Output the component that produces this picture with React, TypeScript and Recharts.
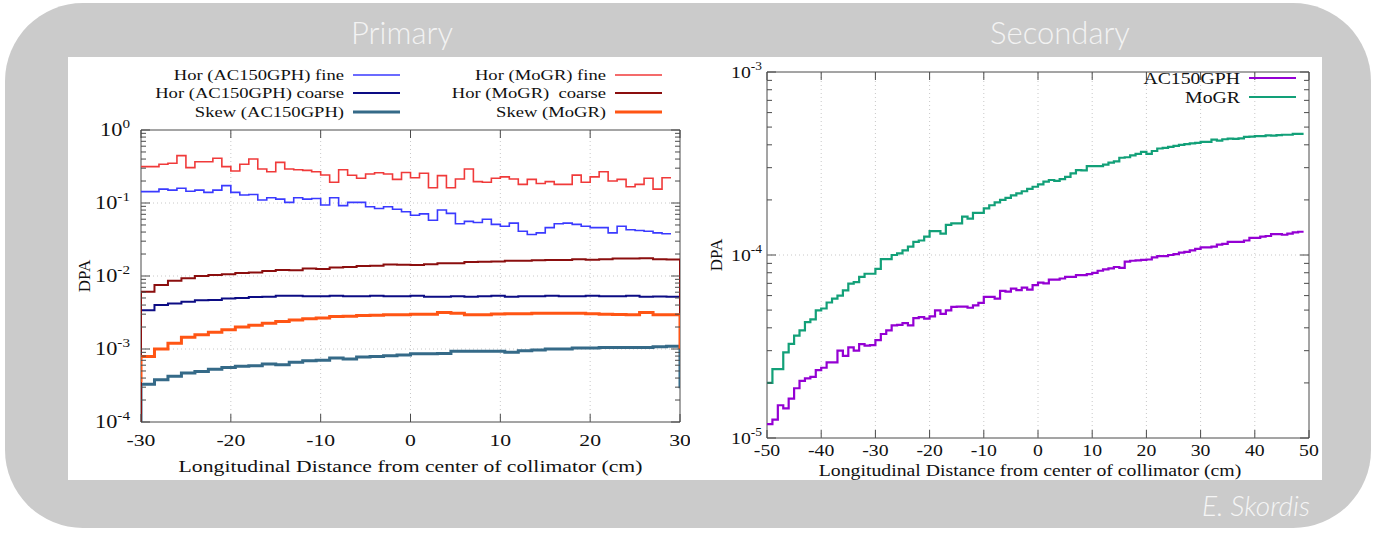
import React from 'react';
import { LineChart, Line, XAxis, YAxis, ReferenceLine, ReferenceArea } from 'recharts';

const SERIF = '"Liberation Serif", "Times New Roman", serif';
const FRAME = '#4a4a4a';
const GRID = '#c8c8c8';
const INK = '#111';

// ---- Primary (left): fine bins are 1 cm wide, coarse/skew bins 1.5 cm, from -30 cm
const horAcFine = [
  0.143, 0.143, 0.155, 0.15, 0.159, 0.145, 0.15, 0.14, 0.15, 0.173,
  0.14, 0.129, 0.131, 0.11, 0.118, 0.113, 0.102, 0.118, 0.113, 0.115,
  0.094, 0.118, 0.092, 0.102, 0.102, 0.089, 0.084, 0.089, 0.082, 0.076,
  0.068, 0.071, 0.058, 0.08, 0.072, 0.052, 0.056, 0.054, 0.06, 0.051,
  0.048, 0.053, 0.041, 0.037, 0.039, 0.046, 0.052, 0.053, 0.051, 0.048,
  0.046, 0.046, 0.039, 0.048, 0.043, 0.042, 0.041, 0.039, 0.038,
];
const horMoFine = [
  0.315, 0.315, 0.339, 0.35, 0.445, 0.305, 0.368, 0.368, 0.41, 0.315,
  0.274, 0.339, 0.4, 0.292, 0.268, 0.36, 0.292, 0.285, 0.28, 0.268,
  0.242, 0.192, 0.285, 0.24, 0.218, 0.25, 0.26, 0.25, 0.211, 0.262,
  0.222, 0.255, 0.162, 0.237, 0.162, 0.213, 0.292, 0.196, 0.192, 0.218,
  0.228, 0.213, 0.18, 0.211, 0.185, 0.196, 0.18, 0.18, 0.241, 0.192,
  0.228, 0.268, 0.2, 0.211, 0.167, 0.18, 0.218, 0.155, 0.222,
];
const horAcCoarse = [
  3.4e-3, 4.0e-3, 4.2e-3, 4.45e-3, 4.65e-3, 4.7e-3, 4.9e-3, 5.0e-3, 5.15e-3, 5.2e-3,
  5.35e-3, 5.35e-3, 5.3e-3, 5.3e-3, 5.35e-3, 5.3e-3, 5.3e-3, 5.35e-3, 5.3e-3, 5.3e-3,
  5.35e-3, 5.2e-3, 5.2e-3, 5.3e-3, 5.2e-3, 5.3e-3, 5.35e-3, 5.2e-3, 5.3e-3, 5.3e-3,
  5.35e-3, 5.3e-3, 5.3e-3, 5.35e-3, 5.3e-3, 5.3e-3, 5.35e-3, 5.2e-3, 5.25e-3, 5.2e-3,
];
const horMoCoarse = [
  6.1e-3, 7.5e-3, 8.6e-3, 9.3e-3, 1.0e-2, 1.03e-2, 1.06e-2, 1.1e-2, 1.12e-2, 1.17e-2,
  1.21e-2, 1.2e-2, 1.27e-2, 1.25e-2, 1.31e-2, 1.33e-2, 1.37e-2, 1.38e-2, 1.44e-2, 1.43e-2,
  1.41e-2, 1.45e-2, 1.49e-2, 1.5e-2, 1.56e-2, 1.57e-2, 1.58e-2, 1.62e-2, 1.62e-2, 1.64e-2,
  1.65e-2, 1.66e-2, 1.7e-2, 1.67e-2, 1.69e-2, 1.74e-2, 1.74e-2, 1.75e-2, 1.7e-2, 1.68e-2,
];
const skewAc = [
  3.3e-4, 3.8e-4, 4.25e-4, 4.7e-4, 4.9e-4, 5.3e-4, 5.6e-4, 5.8e-4, 5.9e-4, 6.25e-4,
  6.1e-4, 6.6e-4, 6.9e-4, 7.0e-4, 7.5e-4, 7.3e-4, 7.8e-4, 7.9e-4, 8.1e-4, 8.3e-4,
  8.6e-4, 8.6e-4, 8.7e-4, 9.3e-4, 9.3e-4, 9.3e-4, 9.3e-4, 9.0e-4, 9.5e-4, 9.7e-4,
  1.0e-3, 1.0e-3, 1.03e-3, 1.03e-3, 1.05e-3, 1.05e-3, 1.05e-3, 1.05e-3, 1.07e-3, 1.09e-3,
];
const skewMo = [
  7.9e-4, 1.0e-3, 1.2e-3, 1.45e-3, 1.57e-3, 1.7e-3, 1.84e-3, 2.0e-3, 2.12e-3, 2.25e-3,
  2.38e-3, 2.5e-3, 2.6e-3, 2.65e-3, 2.78e-3, 2.82e-3, 2.88e-3, 2.9e-3, 2.94e-3, 2.95e-3,
  3.0e-3, 3.0e-3, 3.16e-3, 3.1e-3, 2.94e-3, 2.95e-3, 3.02e-3, 3.03e-3, 3.05e-3, 3.1e-3,
  3.1e-3, 3.1e-3, 3.08e-3, 3.05e-3, 3.0e-3, 2.98e-3, 2.95e-3, 3.15e-3, 2.94e-3, 2.94e-3,
];
// histogram edge values where the outline drops at -30 / +30
const horAcCoarseEdges: [number, number] = [1e-4, 1e-3];
const horMoCoarseEdges: [number, number] = [1e-4, 1e-3];
const skewAcEdges: [number, number] = [1e-4, 2.9e-4];
const skewMoEdges: [number, number] = [3.5e-4, 1e-3];

const primaryXTicks = [-30, -20, -10, 0, 10, 20, 30];

// ---- Secondary (right): 1 cm bins from -50 cm
const secAc = [
  1.19e-5, 1.26e-5, 1.51e-5, 1.45e-5, 1.64e-5, 1.87e-5, 2.05e-5, 2.12e-5, 2.16e-5, 2.35e-5,
  2.42e-5, 2.59e-5, 2.59e-5, 3.0e-5, 2.81e-5, 3.13e-5, 3.0e-5, 3.26e-5, 3.2e-5, 3.22e-5,
  3.43e-5, 3.7e-5, 3.87e-5, 4.12e-5, 4.15e-5, 4.24e-5, 4.12e-5, 4.52e-5, 4.58e-5, 4.49e-5,
  4.62e-5, 4.98e-5, 4.77e-5, 4.98e-5, 5.2e-5, 5.22e-5, 5.22e-5, 5.15e-5, 5.3e-5, 5.47e-5,
  5.9e-5, 5.9e-5, 5.77e-5, 6.37e-5, 6.3e-5, 6.55e-5, 6.42e-5, 6.64e-5, 6.47e-5, 6.84e-5,
  7.07e-5, 7.0e-5, 7.34e-5, 7.34e-5, 7.44e-5, 7.6e-5, 7.6e-5, 7.76e-5, 7.76e-5, 7.86e-5,
  7.99e-5, 8.2e-5, 8.34e-5, 8.45e-5, 8.6e-5, 8.5e-5, 9.2e-5, 9.3e-5, 9.35e-5, 9.4e-5,
  9.45e-5, 9.7e-5, 9.87e-5, 9.85e-5, 1.0e-4, 1.01e-4, 1.03e-4, 1.04e-4, 1.06e-4, 1.08e-4,
  1.1e-4, 1.1e-4, 1.11e-4, 1.14e-4, 1.15e-4, 1.18e-4, 1.18e-4, 1.18e-4, 1.2e-4, 1.24e-4,
  1.24e-4, 1.26e-4, 1.27e-4, 1.3e-4, 1.3e-4, 1.29e-4, 1.31e-4, 1.33e-4, 1.34e-4,
];
const secMo = [
  2.0e-5, 2.38e-5, 2.38e-5, 2.94e-5, 3.27e-5, 3.63e-5, 3.87e-5, 4.3e-5, 4.45e-5, 4.98e-5,
  5.1e-5, 5.5e-5, 5.77e-5, 6.0e-5, 6.4e-5, 6.98e-5, 7.1e-5, 7.6e-5, 7.9e-5, 7.9e-5,
  8.4e-5, 9.5e-5, 9.5e-5, 1.0e-4, 1.02e-4, 1.06e-4, 1.11e-4, 1.18e-4, 1.2e-4, 1.26e-4,
  1.35e-4, 1.35e-4, 1.31e-4, 1.46e-4, 1.49e-4, 1.49e-4, 1.62e-4, 1.58e-4, 1.7e-4, 1.7e-4,
  1.8e-4, 1.87e-4, 1.94e-4, 2.0e-4, 2.05e-4, 2.12e-4, 2.17e-4, 2.23e-4, 2.3e-4, 2.36e-4,
  2.43e-4, 2.52e-4, 2.57e-4, 2.54e-4, 2.6e-4, 2.67e-4, 2.79e-4, 2.91e-4, 2.9e-4, 3.06e-4,
  3.06e-4, 3.06e-4, 3.12e-4, 3.2e-4, 3.25e-4, 3.4e-4, 3.42e-4, 3.5e-4, 3.57e-4, 3.66e-4,
  3.57e-4, 3.7e-4, 3.82e-4, 3.85e-4, 3.9e-4, 3.95e-4, 4.0e-4, 4.04e-4, 4.07e-4, 4.1e-4,
  4.15e-4, 4.15e-4, 4.27e-4, 4.22e-4, 4.29e-4, 4.32e-4, 4.31e-4, 4.34e-4, 4.42e-4, 4.44e-4,
  4.46e-4, 4.46e-4, 4.5e-4, 4.49e-4, 4.52e-4, 4.54e-4, 4.54e-4, 4.59e-4, 4.59e-4,
];
const secondaryXTicks = [-50, -40, -30, -20, -10, 0, 10, 20, 30, 40, 50];

const logTicks = (lo: number, hi: number) => {
  const out: number[] = [];
  for (let e = lo; e < hi; e++) for (let m = 1; m <= 9; m++) out.push(m * Math.pow(10, e));
  out.push(Math.pow(10, hi));
  return out;
};

type Pt = { x: number; y: number };
function histogram(from: number, width: number, vals: number[], edges?: [number, number]): Pt[] {
  const pts: Pt[] = [];
  const end = from + width * vals.length;
  if (edges) pts.push({ x: from, y: edges[0] });
  vals.forEach((v, i) => pts.push({ x: from + i * width, y: v }));
  pts.push({ x: end, y: vals[vals.length - 1] });
  if (edges) pts.push({ x: end, y: edges[1] });
  return pts;
}

function XTick(props: any) {
  const { x, payload, top, bottom, sx, size, dy } = props;
  return (
    <g>
      <line x1={x} x2={x} y1={bottom} y2={bottom - 8} stroke={FRAME} />
      <line x1={x} x2={x} y1={top} y2={top + 8} stroke={FRAME} />
      <g transform={`translate(${x},${bottom + dy}) scale(${sx},1)`}>
        <text textAnchor="middle" dy="0.35em" fontFamily={SERIF} fontSize={size} fill={INK}>{payload.value}</text>
      </g>
    </g>
  );
}

function YTick(props: any) {
  const { y, payload, left, right, sx, size, gap } = props;
  const v = payload.value;
  const e = Math.round(Math.log10(v));
  const major = Math.abs(v / Math.pow(10, e) - 1) < 1e-6;
  const len = major ? 9 : 5;
  return (
    <g>
      <line x1={left} x2={left + len} y1={y} y2={y} stroke={FRAME} />
      <line x1={right} x2={right - len} y1={y} y2={y} stroke={FRAME} />
      {major && (
        <g transform={`translate(${left - gap},${y}) scale(${sx},1)`}>
          <text textAnchor="end" dy="0.35em" fontFamily={SERIF} fontSize={size} fill={INK}>
            10<tspan fontSize={size * 0.68} dy={-size * 0.45}>{e}</tspan>
          </text>
        </g>
      )}
    </g>
  );
}

function LegendRow({ x, y, label, color, width, sx, size }: any) {
  return (
    <g>
      <g transform={`translate(${x},${y}) scale(${sx},1)`}>
        <text textAnchor="end" dy="0.35em" fontFamily={SERIF} fontSize={size} fill={INK} style={{ whiteSpace: 'pre' }}>{label}</text>
      </g>
      <line x1={x + 9} x2={x + 56} y1={y} y2={y} stroke={color} strokeWidth={width} />
    </g>
  );
}

const C = {
  acFine: '#3a3aff',
  acCoarse: '#0c0c84',
  acSkew: '#356a88',
  moFine: '#f03a3a',
  moCoarse: '#8b0e0e',
  moSkew: '#ff5514',
  purple: '#9400d3',
  green: '#12a078',
};

function Primary() {
  const W = 622, H = 423, top = 73, right = 10, yw = 73, xh = 58;
  const plotL = yw, plotR = W - right, plotT = top, plotB = H - xh;
  const SX = 1.24;
  const series = [
    { key: 'acFine', data: histogram(-30, 1, horAcFine), color: C.acFine, w: 1.6 },
    { key: 'acCoarse', data: histogram(-30, 1.5, horAcCoarse, horAcCoarseEdges), color: C.acCoarse, w: 2 },
    { key: 'acSkew', data: histogram(-30, 1.5, skewAc, skewAcEdges), color: C.acSkew, w: 3 },
    { key: 'moFine', data: histogram(-30, 1, horMoFine), color: C.moFine, w: 1.6 },
    { key: 'moCoarse', data: histogram(-30, 1.5, horMoCoarse, horMoCoarseEdges), color: C.moCoarse, w: 2 },
    { key: 'moSkew', data: histogram(-30, 1.5, skewMo, skewMoEdges), color: C.moSkew, w: 3 },
  ];
  return (
    <div style={{ position: 'absolute', left: 68, top: 57, width: W, height: H }}>
      <LineChart width={W} height={H} margin={{ top, right, bottom: 0, left: 0 }}>
        <XAxis
          type="number" dataKey="x" domain={[-30, 30]} ticks={primaryXTicks} interval={0}
          allowDataOverflow height={xh} axisLine={false} tickLine={false}
          tick={(p: any) => <XTick {...p} top={plotT} bottom={plotB} sx={SX} size={17.5} dy={18} />}
          label={{
            content: (p: any) => (
              <g transform={`translate(${p.viewBox.x + p.viewBox.width / 2},${plotB + 44}) scale(${SX},1)`}>
                <text textAnchor="middle" dy="0.35em" fontFamily={SERIF} fontSize={17.5} fill={INK}>
                  Longitudinal Distance from center of collimator (cm)
                </text>
              </g>
            ),
          }}
        />
        <YAxis
          type="number" scale="log" domain={[1e-4, 1]} ticks={logTicks(-4, 0)} interval={0}
          allowDataOverflow width={yw} axisLine={false} tickLine={false}
          tick={(p: any) => <YTick {...p} left={plotL} right={plotR} sx={SX} size={18} gap={11} />}
          label={{
            content: (p: any) => (
              <text transform={`translate(${p.viewBox.x + 16},${p.viewBox.y + p.viewBox.height / 2}) rotate(-90)`}
                textAnchor="middle" dy="0.35em" fontFamily={SERIF} fontSize={17} fill={INK}>DPA</text>
            ),
          }}
        />
        {[-20, -10, 0, 10, 20].map((v) => (
          <ReferenceLine key={'gx' + v} x={v} stroke={GRID} strokeDasharray="1 3" />
        ))}
        {[1e-3, 1e-2, 1e-1].map((v) => (
          <ReferenceLine key={'gy' + v} y={v} stroke={GRID} strokeDasharray="1 3" />
        ))}
        <ReferenceArea x1={-30} x2={30} y1={1e-4} y2={1} fill="none" stroke={FRAME} strokeWidth={1} />
        {series.map((s) => (
          <Line
            key={s.key} data={s.data} dataKey="y" type="stepAfter" stroke={s.color} strokeWidth={s.w}
            dot={false} activeDot={false} isAnimationActive={false} strokeLinejoin="miter"
          />
        ))}
      </LineChart>
      <svg width={W} height={70} style={{ position: 'absolute', left: 0, top: 0 }}>
        <LegendRow x={276} y={18} label="Hor (AC150GPH) fine" color={C.acFine} width={1.6} sx={SX} size={15} />
        <LegendRow x={276} y={36} label="Hor (AC150GPH) coarse" color={C.acCoarse} width={2} sx={SX} size={15} />
        <LegendRow x={276} y={55} label="Skew (AC150GPH)" color={C.acSkew} width={3} sx={SX} size={15} />
        <LegendRow x={538} y={18} label="Hor (MoGR) fine" color={C.moFine} width={1.6} sx={SX} size={15} />
        <LegendRow x={538} y={36} label="Hor (MoGR)  coarse" color={C.moCoarse} width={2} sx={SX} size={15} />
        <LegendRow x={538} y={55} label="Skew (MoGR)" color={C.moSkew} width={3} sx={SX} size={15} />
      </svg>
    </div>
  );
}

function Secondary() {
  const W = 630, H = 423, top = 15, right = 13, yw = 75, xh = 42;
  const plotL = yw, plotR = W - right, plotT = top, plotB = H - xh;
  const SX = 1.13;
  return (
    <div style={{ position: 'absolute', left: 692, top: 57, width: W, height: H }}>
      <LineChart width={W} height={H} margin={{ top, right, bottom: 0, left: 0 }}>
        <XAxis
          type="number" dataKey="x" domain={[-50, 50]} ticks={secondaryXTicks} interval={0}
          allowDataOverflow height={xh} axisLine={false} tickLine={false}
          tick={(p: any) => <XTick {...p} top={plotT} bottom={plotB} sx={SX} size={17.5} dy={12} />}
          label={{
            content: () => (
              <g transform={`translate(${338},${plotB + 32}) scale(${SX},1)`}>
                <text textAnchor="middle" dy="0.35em" fontFamily={SERIF} fontSize={17.5} fill={INK}>
                  Longitudinal Distance from center of collimator (cm)
                </text>
              </g>
            ),
          }}
        />
        <YAxis
          type="number" scale="log" domain={[1e-5, 1e-3]} ticks={logTicks(-5, -3)} interval={0}
          allowDataOverflow width={yw} axisLine={false} tickLine={false}
          tick={(p: any) => <YTick {...p} left={plotL} right={plotR} sx={SX} size={17.5} gap={5} />}
          label={{
            content: (p: any) => (
              <text transform={`translate(${p.viewBox.x + 24},${p.viewBox.y + p.viewBox.height / 2}) rotate(-90)`}
                textAnchor="middle" dy="0.35em" fontFamily={SERIF} fontSize={17} fill={INK}>DPA</text>
            ),
          }}
        />
        {[-40, -30, -20, -10, 0, 10, 20, 30, 40].map((v) => (
          <ReferenceLine key={'gx' + v} x={v} stroke={GRID} strokeDasharray="1 3" />
        ))}
        <ReferenceLine y={1e-4} stroke={GRID} strokeDasharray="1 3" />
        <ReferenceArea x1={-50} x2={50} y1={1e-5} y2={1e-3} fill="none" stroke={FRAME} strokeWidth={1} />
        <Line data={histogram(-50, 1, secAc)} dataKey="y" type="stepAfter" stroke={C.purple} strokeWidth={2.2}
          dot={false} activeDot={false} isAnimationActive={false} />
        <Line data={histogram(-50, 1, secMo)} dataKey="y" type="stepAfter" stroke={C.green} strokeWidth={2.2}
          dot={false} activeDot={false} isAnimationActive={false} />
      </LineChart>
      <svg width={W} height={60} style={{ position: 'absolute', left: 0, top: 0 }}>
        <LegendRow x={548} y={21} label="AC150GPH" color={C.purple} width={2.2} sx={SX} size={17.5} />
        <LegendRow x={548} y={40} label="MoGR" color={C.green} width={2.2} sx={SX} size={17.5} />
      </svg>
    </div>
  );
}

const titleStyle: React.CSSProperties = {
  position: 'absolute', top: 11, fontFamily: 'Lato, "Open Sans", sans-serif', fontWeight: 300,
  fontSize: 31, color: '#f3f3f3', textAlign: 'center', width: 300, lineHeight: '42px',
};

export default function App() {
  return (
    <div style={{ position: 'absolute', left: 0, top: 0, width: 1375, height: 533, background: '#fff', overflow: 'hidden' }}>
      <div style={{ position: 'absolute', left: 5, top: 3, width: 1366, height: 525, background: '#cbcbcb', borderRadius: 78 }} />
      <div style={{ ...titleStyle, left: 252 }}>Primary</div>
      <div style={{ ...titleStyle, left: 910 }}>Secondary</div>
      <div style={{ position: 'absolute', left: 68, top: 57, width: 1254, height: 423, background: '#fff' }} />
      <Primary />
      <Secondary />
      <div style={{
        position: 'absolute', right: 1375 - 1310, top: 488, fontFamily: 'Lato, "Open Sans", sans-serif',
        fontStyle: 'italic', fontWeight: 300, fontSize: 28, color: '#f5f5f5',
      }}>E. Skordis</div>
    </div>
  );
}
